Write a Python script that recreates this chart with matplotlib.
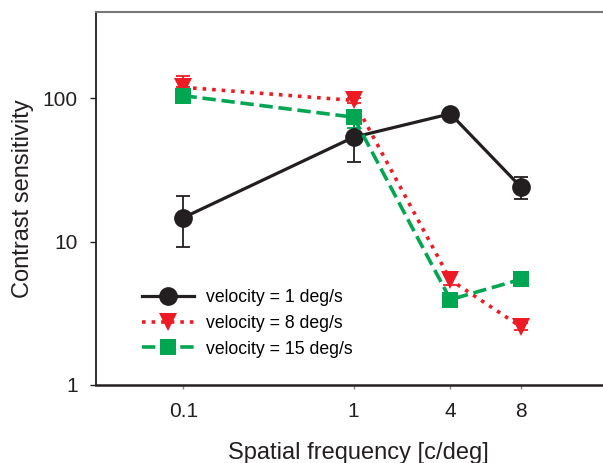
import numpy as np
import matplotlib
matplotlib.use('Agg')
import matplotlib.pyplot as plt

plt.rcParams['font.family'] = ['Liberation Sans', 'DejaVu Sans']

#Spatial frequencies and tick labels.
freqs = [0.1, 1, 4, 8]
xtick_labels = ['0.1', '1', '4', '8']

#Contrast sensitivity for each velocity (lower / upper error bar ends).
cs_v1 = [14.7, 53.4, 77.8, 23.9]
cs_v1_lo = [9.2, 35.9, 77.8, 19.9]
cs_v1_hi = [20.7, 70.0, 77.8, 28.0]

cs_v8 = [119, 96.4, 5.4, 2.54]
cs_v8_lo = [119, 92.0, 5.0, 2.4]
cs_v8_hi = [142, 100.0, 5.8, 2.7]

cs_v15 = [104, 73.7, 3.94, 5.46]
cs_v15_lo = [104, 62.0, 3.94, 5.46]
cs_v15_hi = [104, 73.7, 3.94, 5.46]

labels = ['velocity = 1 deg/s', 'velocity = 8 deg/s', 'velocity = 15 deg/s']

#Axis in the figure is not a plain log axis: place ticks where they sit.
knot_x = np.log10([1e-4, 0.1, 1, 4, 8, 1e4])
knot_p = np.array([-3.0, -1.0, 0.0, 0.569, 0.985, 0.985 + 4 - np.log10(8)])


def fwd(x):
    lx = np.log10(np.clip(x, 1e-4, 1e4))
    return np.interp(lx, knot_x, knot_p)


def inv(p):
    return 10 ** np.interp(p, knot_p, knot_x)


fig = plt.figure(figsize=(6.03, 4.63), dpi=100)
ax = fig.add_axes([0.159, 0.1685, 0.87, 0.806])
ax.set_xscale('function', functions=(fwd, inv))
ax.set_yscale('log')

black = '#231f20'
red = '#ed1c24'
green = '#00a651'

series = [
    (cs_v1, cs_v1_lo, cs_v1_hi, black, '-', 'o', 13.5, 2.3),
    (cs_v8, cs_v8_lo, cs_v8_hi, red, ':', 'v', 12.5, 2.6),
    (cs_v15, cs_v15_lo, cs_v15_hi, green, '--', 's', 11.5, 2.6),
]

handles = []
for (y, lo, hi, c, ls, m, ms, lw), lab in zip(series, labels):
    y = np.array(y)
    yerr = [y - np.array(lo), np.array(hi) - y]
    ax.errorbar(freqs, y, yerr=yerr, fmt='none', ecolor=c, elinewidth=1.3,
                capsize=5, capthick=1.3, zorder=2)
    h, = ax.plot(freqs, y, color=c, linestyle=ls, linewidth=lw, marker=m,
                 markersize=ms, markeredgewidth=0, label=lab, zorder=3)
    handles.append(h)

ax.set_xlim(inv(-1.515), inv(1.569))
ax.set_ylim(1, 400)
ax.set_xticks(freqs)
ax.set_xticklabels(xtick_labels)
ax.minorticks_off()
ax.set_yticks([1, 10, 100])
ax.set_yticklabels(['1', '10', '100'])
ax.tick_params(labelsize=15, length=4, width=1, color=black, pad=9,
               labelcolor=black)
ax.tick_params(axis='x', pad=9.5, length=3, color='#888888')

ax.spines['right'].set_visible(False)
ax.spines['top'].set_color('#777777')
ax.spines['top'].set_linewidth(1.5)
ax.spines['left'].set_linewidth(1.3)
ax.spines['bottom'].set_linewidth(1.8)
ax.spines['left'].set_color(black)
ax.spines['bottom'].set_color(black)

ax.set_xlabel('Spatial frequency [c/deg]', fontsize=17, labelpad=15,
              color=black)
ax.set_ylabel('Contrast sensitivity', fontsize=17, labelpad=6, color=black)

ax.legend(handles=handles, loc='upper left', bbox_to_anchor=(0.224, 0.391),
          bbox_transform=fig.transFigure, frameon=False, fontsize=12.7,
          handlelength=2.95, labelspacing=0.5, handletextpad=0.68,
          borderaxespad=0)

plt.savefig('out.png', dpi=100)
